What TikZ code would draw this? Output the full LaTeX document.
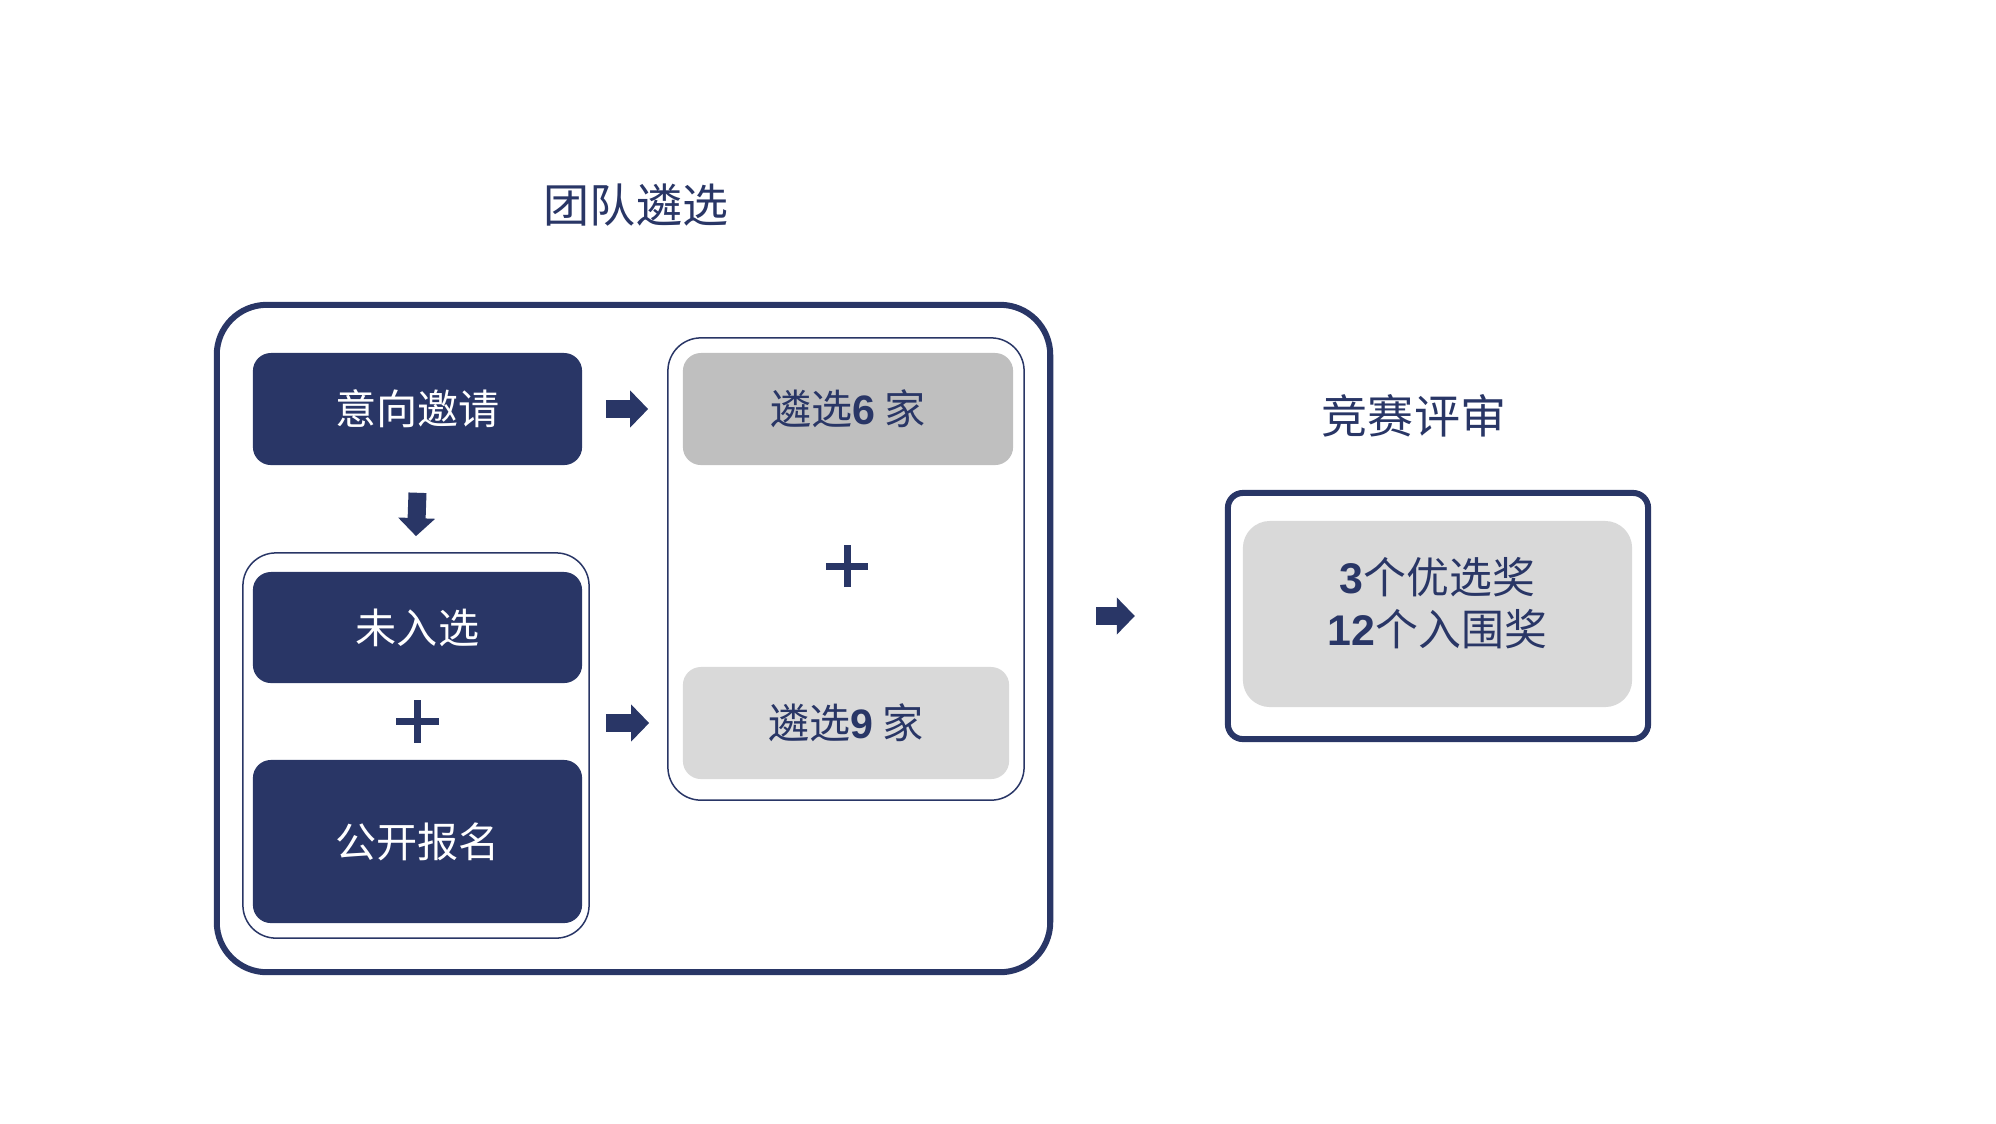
\documentclass[tikz,border=0pt]{standalone}
\usepackage{fontspec}
\setmainfont{Noto Sans CJK SC}
\newfontfamily\digitfont{Liberation Sans}
\usetikzlibrary{arrows.meta, calc}

\definecolor{navy}{RGB}{41,54,102}
\definecolor{greyA}{RGB}{191,191,191}
\definecolor{greyB}{RGB}{217,217,217}

\newcommand{\num}[1]{{\digitfont\bfseries #1}}

\tikzset{
	heading/.style = {text = navy, font = \fontsize{13.1pt}{16pt}\selectfont},
	outerframe/.style = {draw = navy, line width = 0.06cm},
	groupframe/.style = {draw = navy, line width = 0.015cm, rounded corners = 0.33cm},
	darkbox/.style = {fill = navy, text = white, rounded corners = 0.18cm,
		minimum width = 3.29cm, font = \fontsize{11.7pt}{14pt}\selectfont},
	greybox/.style = {text = navy, rounded corners = 0.18cm,
		minimum height = 1.12cm, font = \fontsize{11.7pt}{14pt}\selectfont},
	blockarrow/.style = {navy, line width = 0.18cm,
		-{Triangle[length = 0.18cm, width = 0.36cm]}},
	plusbar/.style = {navy, line width = 0.07cm}
}

\begin{document}
\begin{tikzpicture}[x = 0.01cm, y = -0.01cm]

	% Canvas

	\useasboundingbox (0, 0) rectangle (1996, 1123);

	% Team selection

	\node [heading] (team-title) at (636, 205) {团队遴选};

	\node [outerframe, rounded corners = 0.5cm, minimum width = 8.33cm,
		minimum height = 6.67cm] (team-frame) at (633.5, 638.5) {};

	\node [groupframe, minimum width = 3.46cm, minimum height = 3.85cm]
		(left-group) at (416, 745.5) {};
	\node [groupframe, minimum width = 3.56cm, minimum height = 4.62cm]
		(right-group) at (846, 569) {};

	\node [darkbox, minimum height = 1.12cm] (invite) at (417.5, 409) {意向邀请};
	\node [darkbox, minimum height = 1.11cm] (not-chosen) at (417.5, 627.5) {未入选};
	\node [darkbox, minimum height = 1.63cm] (open-call) at (417.5, 841.5) {公开报名};

	\node [greybox, fill = greyA, minimum width = 3.30cm] (pick-six) at (848, 409) {遴选\num{6} 家};
	\node [greybox, fill = greyB, minimum width = 3.26cm] (pick-nine) at (846, 723) {遴选\num{9} 家};

	% Plus signs

	\coordinate (plus-left) at ($(not-chosen.south)!0.5!(open-call.north)$);
	\coordinate (plus-right) at ($(pick-six.south)!0.5!(pick-nine.north)$);

	\foreach \c in {plus-left, plus-right}
	{
		\draw [plusbar] ([xshift = -0.21cm] \c) -- ([xshift = 0.21cm] \c);
		\draw [plusbar] ([yshift = -0.21cm] \c) -- ([yshift = 0.21cm] \c);
	}

	% Arrows inside the frame

	\draw [blockarrow] ([yshift = -0.27cm] invite.south) -- ([yshift = 0.16cm] left-group.north);
	\draw [blockarrow] ([xshift = 0.23cm] invite.east) -- ([xshift = -0.19cm] right-group.west |- invite);
	\draw [blockarrow] ([xshift = 0.16cm] left-group.east |- pick-nine) -- ([xshift = -0.18cm] right-group.west |- pick-nine);

	% Competition review

	\node [heading] (award-title) at (1414, 416) {竞赛评审};

	\node [outerframe, rounded corners = 0.15cm, minimum width = 4.20cm,
		minimum height = 2.46cm] (award-frame) at (1438, 616) {};

	\node [greybox, fill = greyB, rounded corners = 0.27cm, minimum width = 3.89cm,
		minimum height = 1.86cm, align = center, text depth = 7pt,
		font = \fontsize{12.2pt}{14.8pt}\selectfont]
		(awards) at (1437.5, 614) {\num{3}个优选奖\\\num{12}个入围奖};

	\draw [blockarrow] ([xshift = 0.43cm] team-frame.east |- award-frame) -- ([xshift = -0.9cm] award-frame.west);

\end{tikzpicture}
\end{document}
